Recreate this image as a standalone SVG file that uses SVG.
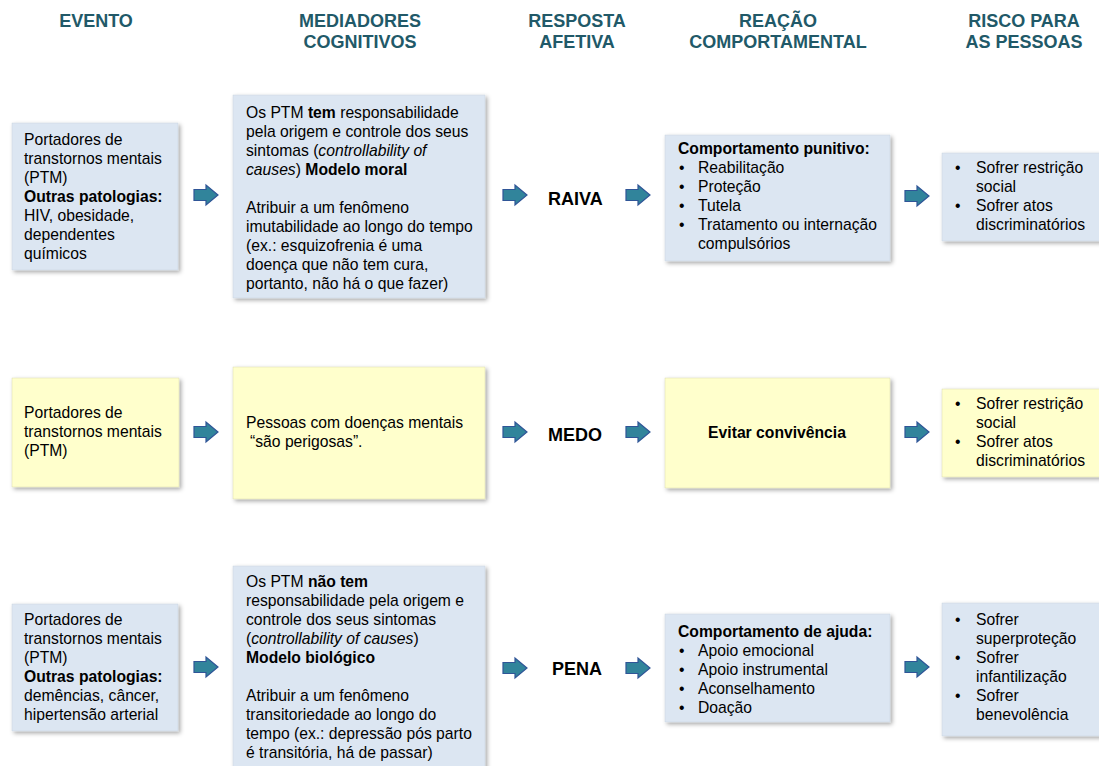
<svg xmlns="http://www.w3.org/2000/svg" width="1099" height="766" viewBox="0 0 1099 766">
<defs>
<filter id="sh" x="-10%" y="-10%" width="130%" height="130%">
<feDropShadow dx="2" dy="2" stdDeviation="2" flood-color="#000" flood-opacity="0.35"/>
</filter>
<path id="arr" d="M-12,-5.5 H0 V-10 L12,0 L0,10 V5.5 H-12 Z" fill="#31849B" stroke="#2F5597" stroke-width="1.2"/>
<style>
.hd{font-family:"Liberation Sans",Arial,sans-serif;font-weight:bold;font-size:18px;fill:#215968;text-anchor:middle}
.t{font-family:"Liberation Sans",Arial,sans-serif;font-size:15.7px;fill:#000}
.b{font-weight:bold}
.i{font-style:italic}
.emo{font-family:"Liberation Sans",Arial,sans-serif;font-weight:bold;font-size:18px;fill:#000}
.blue{fill:#DCE6F2;stroke:#C9D3DE;stroke-width:0.5;filter:url(#sh)}
.yel{fill:#FFFFCC;stroke:#D9D9B0;stroke-width:0.5;filter:url(#sh)}
</style>
</defs>
<rect width="1099" height="766" fill="#fff"/>

<g id="headers">
<text class="hd" x="96" y="27">EVENTO</text>
<text class="hd" x="360" y="27">MEDIADORES</text>
<text class="hd" x="360" y="48">COGNITIVOS</text>
<text class="hd" x="577" y="27">RESPOSTA</text>
<text class="hd" x="577" y="48">AFETIVA</text>
<text class="hd" x="778" y="27">REAÇÃO</text>
<text class="hd" x="778" y="48">COMPORTAMENTAL</text>
<text class="hd" x="1024" y="27">RISCO PARA</text>
<text class="hd" x="1024" y="48">AS PESSOAS</text>
</g>

<!-- Row 1 -->
<g id="evento1">
<rect class="blue" x="12" y="123" width="166" height="147"/>
<text class="t" x="24" y="145">Portadores de</text>
<text class="t" x="24" y="164">transtornos mentais</text>
<text class="t" x="24" y="183">(PTM)</text>
<text class="t b" x="24" y="202">Outras patologias:</text>
<text class="t" x="24" y="221">HIV, obesidade,</text>
<text class="t" x="24" y="240">dependentes</text>
<text class="t" x="24" y="259">químicos</text>
</g>
<g id="mediador1">
<rect class="blue" x="233" y="95" width="252" height="203"/>
<text class="t" x="246" y="118">Os PTM <tspan class="b">tem</tspan> responsabilidade</text>
<text class="t" x="246" y="137">pela origem e controle dos seus</text>
<text class="t" x="246" y="156">sintomas (<tspan class="i">controllability of</tspan></text>
<text class="t" x="246" y="175"><tspan class="i">causes</tspan>) <tspan class="b">Modelo moral</tspan></text>
<text class="t" x="246" y="213">Atribuir a um fenômeno</text>
<text class="t" x="246" y="232">imutabilidade ao longo do tempo</text>
<text class="t" x="246" y="251">(ex.: esquizofrenia é uma</text>
<text class="t" x="246" y="270">doença que não tem cura,</text>
<text class="t" x="246" y="289">portanto, não há o que fazer)</text>
</g>
<g id="resposta1">
<text class="emo" x="548" y="205">RAIVA</text>
</g>
<g id="reacao1">
<rect class="blue" x="665" y="135" width="225" height="126"/>
<text class="t b" x="678" y="154">Comportamento punitivo:</text>
<text class="t" x="679" y="173">•</text><text class="t" x="698" y="173">Reabilitação</text>
<text class="t" x="679" y="192">•</text><text class="t" x="698" y="192">Proteção</text>
<text class="t" x="679" y="211">•</text><text class="t" x="698" y="211">Tutela</text>
<text class="t" x="679" y="230">•</text><text class="t" x="698" y="230">Tratamento ou internação</text>
<text class="t" x="698" y="249">compulsórios</text>
</g>
<g id="risco1">
<rect class="blue" x="942" y="153" width="162" height="88"/>
<text class="t" x="955" y="173">•</text><text class="t" x="976" y="173">Sofrer restrição</text>
<text class="t" x="976" y="192">social</text>
<text class="t" x="955" y="211">•</text><text class="t" x="976" y="211">Sofrer atos</text>
<text class="t" x="976" y="230">discriminatórios</text>
</g>

<!-- Row 2 -->
<g id="evento2">
<rect class="yel" x="12" y="378" width="167" height="109"/>
<text class="t" x="24" y="418">Portadores de</text>
<text class="t" x="24" y="437">transtornos mentais</text>
<text class="t" x="24" y="456">(PTM)</text>
</g>
<g id="mediador2">
<rect class="yel" x="233" y="367" width="252" height="132"/>
<text class="t" x="246" y="428">Pessoas com doenças mentais</text>
<text class="t" x="250" y="447">“são perigosas”.</text>
</g>
<g id="resposta2">
<text class="emo" x="548" y="441">MEDO</text>
</g>
<g id="reacao2">
<rect class="yel" x="665" y="378" width="225" height="110"/>
<text class="t b" x="777" y="438" text-anchor="middle">Evitar convivência</text>
</g>
<g id="risco2">
<rect class="yel" x="942" y="389" width="162" height="88"/>
<text class="t" x="955" y="409">•</text><text class="t" x="976" y="409">Sofrer restrição</text>
<text class="t" x="976" y="428">social</text>
<text class="t" x="955" y="447">•</text><text class="t" x="976" y="447">Sofrer atos</text>
<text class="t" x="976" y="466">discriminatórios</text>
</g>

<!-- Row 3 -->
<g id="evento3">
<rect class="blue" x="12" y="604" width="166" height="127"/>
<text class="t" x="24" y="625">Portadores de</text>
<text class="t" x="24" y="644">transtornos mentais</text>
<text class="t" x="24" y="663">(PTM)</text>
<text class="t b" x="24" y="682">Outras patologias:</text>
<text class="t" x="24" y="701">demências, câncer,</text>
<text class="t" x="24" y="720">hipertensão arterial</text>
</g>
<g id="mediador3">
<rect class="blue" x="233" y="566" width="252" height="212"/>
<text class="t" x="246" y="587">Os PTM <tspan class="b">não tem</tspan></text>
<text class="t" x="246" y="606">responsabilidade pela origem e</text>
<text class="t" x="246" y="625">controle dos seus sintomas</text>
<text class="t" x="246" y="644">(<tspan class="i">controllability of causes</tspan>)</text>
<text class="t b" x="246" y="663">Modelo biológico</text>
<text class="t" x="246" y="701">Atribuir a um fenômeno</text>
<text class="t" x="246" y="720">transitoriedade ao longo do</text>
<text class="t" x="246" y="739">tempo (ex.: depressão pós parto</text>
<text class="t" x="246" y="758">é transitória, há de passar)</text>
</g>
<g id="resposta3">
<text class="emo" x="552" y="675">PENA</text>
</g>
<g id="reacao3">
<rect class="blue" x="665" y="614" width="225" height="108"/>
<text class="t b" x="678" y="637">Comportamento de ajuda:</text>
<text class="t" x="679" y="656">•</text><text class="t" x="698" y="656">Apoio emocional</text>
<text class="t" x="679" y="675">•</text><text class="t" x="698" y="675">Apoio instrumental</text>
<text class="t" x="679" y="694">•</text><text class="t" x="698" y="694">Aconselhamento</text>
<text class="t" x="679" y="713">•</text><text class="t" x="698" y="713">Doação</text>
</g>
<g id="risco3">
<rect class="blue" x="942" y="603" width="162" height="133"/>
<text class="t" x="955" y="625">•</text><text class="t" x="976" y="625">Sofrer</text>
<text class="t" x="976" y="644">superproteção</text>
<text class="t" x="955" y="663">•</text><text class="t" x="976" y="663">Sofrer</text>
<text class="t" x="976" y="682">infantilização</text>
<text class="t" x="955" y="701">•</text><text class="t" x="976" y="701">Sofrer</text>
<text class="t" x="976" y="720">benevolência</text>
</g>

<g id="connectors">
<use href="#arr" x="206" y="195"/>
<use href="#arr" x="515" y="195"/>
<use href="#arr" x="638" y="195"/>
<use href="#arr" x="917" y="196"/>
<use href="#arr" x="206" y="432"/>
<use href="#arr" x="515" y="432"/>
<use href="#arr" x="638" y="432"/>
<use href="#arr" x="917" y="432"/>
<use href="#arr" x="206" y="667"/>
<use href="#arr" x="515" y="668"/>
<use href="#arr" x="638" y="668"/>
<use href="#arr" x="917" y="667"/>
</g>
</svg>
